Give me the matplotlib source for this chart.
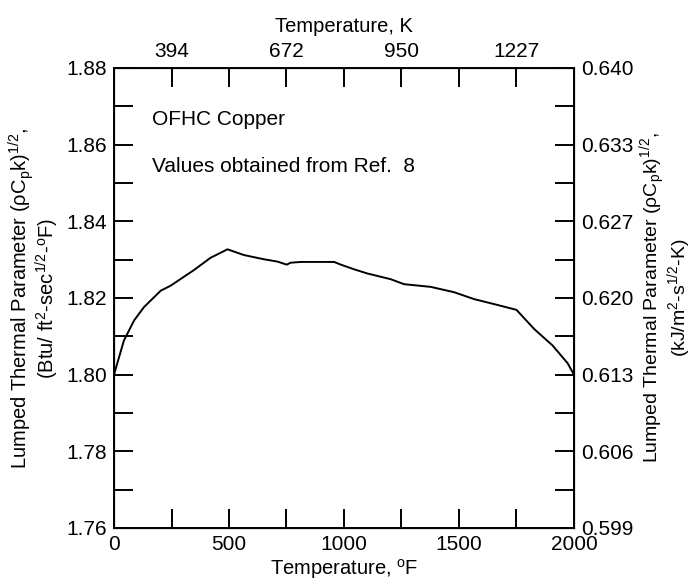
import numpy as np
import matplotlib
matplotlib.use('Agg')
import matplotlib.pyplot as plt

plt.rcParams['font.family'] = ['Liberation Sans', 'DejaVu Sans']
plt.rcParams['mathtext.fontset'] = 'custom'
plt.rcParams['mathtext.rm'] = 'Liberation Sans'
plt.rcParams['mathtext.it'] = 'Liberation Sans:italic'
plt.rcParams['mathtext.default'] = 'rm'

# curve (temperature in F, parameter in Btu/ft2-sec1/2-F)
temp_f = [0, 43, 87, 130, 203, 246, 348, 420, 464, 493, 565, 652, 710, 751, 768,
          812, 957, 986, 1043, 1101, 1203, 1261, 1377, 1479, 1566, 1653, 1750,
          1827, 1907, 1972, 2000]
param = [1.800, 1.8089, 1.8141, 1.8176, 1.8219, 1.8232, 1.8273, 1.8305, 1.8318,
         1.8327, 1.8312, 1.8301, 1.8295, 1.8287, 1.8292, 1.8294, 1.8294, 1.8287,
         1.8275, 1.8264, 1.8249, 1.8236, 1.8229, 1.8215, 1.8197, 1.8184, 1.8169,
         1.8119, 1.8076, 1.8030, 1.8000]

y_ticks = [1.76, 1.78, 1.80, 1.82, 1.84, 1.86, 1.88]
right_labels = ['0.599', '0.606', '0.613', '0.620', '0.627', '0.633', '0.640']
x_ticks = [0, 500, 1000, 1500, 2000]
top_ticks = [250, 750, 1250, 1750]
top_labels = ['394', '672', '950', '1227']

FS = 15
LFS = 14.5
TL = 13.5
LW = 1.4

fig = plt.figure(figsize=(6.96, 5.86), dpi=100)
ax = fig.add_axes([0.1638, 0.099, 0.6609, 0.785])

ax.plot(temp_f, param, color='black', lw=1.4)

ax.set_xlim(0, 2000)
ax.set_ylim(1.76, 1.88)
ax.set_xticks(x_ticks)
ax.set_xticks(np.arange(250, 2000, 250), minor=True)
ax.set_yticks(y_ticks)
ax.set_yticklabels(['%.2f' % v for v in y_ticks])
ax.set_yticks(np.arange(1.77, 1.88, 0.02), minor=True)

ax.tick_params(which='both', direction='in', length=TL, width=LW, labelsize=FS,
               left=True, right=False, top=False, bottom=True)
ax.tick_params(axis='x', pad=5)
ax.tick_params(axis='y', pad=5)
for s in ax.spines.values():
    s.set_linewidth(LW)

ax.set_xlabel('Temperature, $^o$F', fontsize=LFS, labelpad=2)
ax.set_ylabel('Lumped Thermal Parameter ($\\rho$C$_p$k)$^{1/2}$,\n'
              '(Btu/ ft$^2$-sec$^{1/2}$-$^o$F)', fontsize=LFS, labelpad=4,
              linespacing=0.9)

# right axis, SI units
axr = ax.twinx()
axr.set_ylim(1.76, 1.88)
axr.set_yticks(y_ticks)
axr.set_yticklabels(right_labels)
axr.set_yticks(np.arange(1.77, 1.88, 0.02), minor=True)
axr.tick_params(which='both', direction='in', length=TL, width=LW, labelsize=FS, pad=5)
axr.set_ylabel('Lumped Thermal Parameter ($\\rho$C$_p$k)$^{1/2}$,\n'
               '(kJ/m$^2$-s$^{1/2}$-K)', fontsize=14, labelpad=3,
               linespacing=0.85, rotation=90)

# top axis, Kelvin
axt = ax.twiny()
axt.set_xlim(0, 2000)
axt.set_xticks(top_ticks)
axt.set_xticklabels(top_labels)
axt.set_xticks([500, 1000, 1500], minor=True)
axt.tick_params(which='both', direction='in', length=TL, width=LW, labelsize=FS, pad=5)
axt.set_xlabel('Temperature, K', fontsize=LFS, labelpad=7)

ax.text(165, 1.8666, 'OFHC Copper', fontsize=FS, va='center')
ax.text(165, 1.8544, 'Values obtained from Ref.  8', fontsize=FS, va='center')

fig.savefig('out.png', dpi=100)
